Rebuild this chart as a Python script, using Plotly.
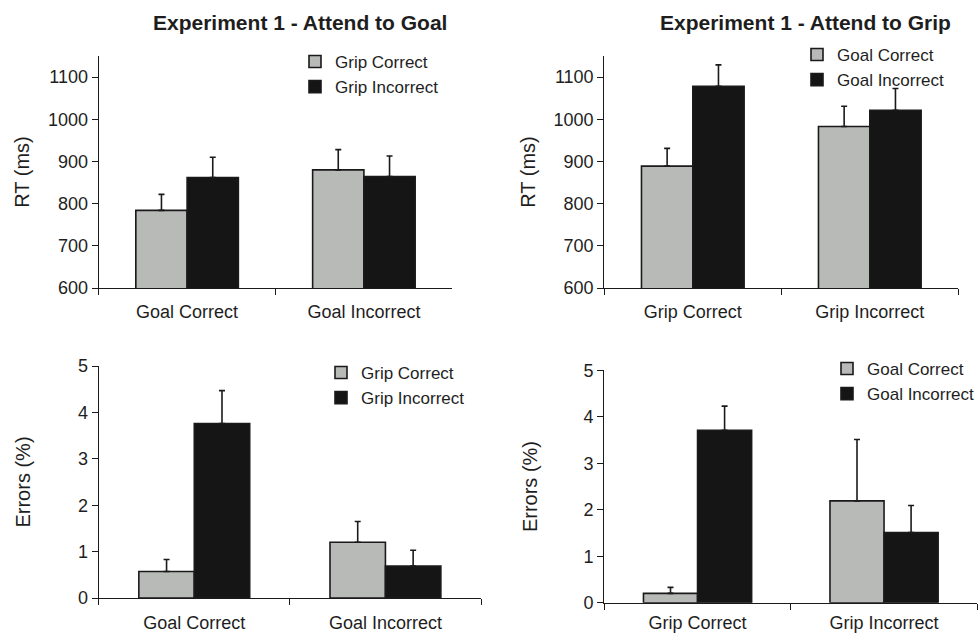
import plotly.graph_objects as go

# ---- data ----
goal_categories = ["Goal Correct", "Goal Incorrect"]
grip_categories = ["Grip Correct", "Grip Incorrect"]

# Attend to Goal (top-left RT, bottom-left errors)
rt_goal_grip_correct = [784, 880]
rt_goal_grip_correct_err = [38, 48]
rt_goal_grip_incorrect = [862, 864]
rt_goal_grip_incorrect_err = [48, 49]

err_goal_grip_correct = [0.57, 1.20]
err_goal_grip_correct_err = [0.26, 0.45]
err_goal_grip_incorrect = [3.76, 0.69]
err_goal_grip_incorrect_err = [0.71, 0.34]

# Attend to Grip (top-right RT, bottom-right errors)
rt_grip_goal_correct = [889, 983]
rt_grip_goal_correct_err = [42, 48]
rt_grip_goal_incorrect = [1078, 1021]
rt_grip_goal_incorrect_err = [51, 52]

err_grip_goal_correct = [0.20, 2.19]
err_grip_goal_correct_err = [0.13, 1.32]
err_grip_goal_incorrect = [3.71, 1.51]
err_grip_goal_incorrect_err = [0.52, 0.58]

titles = ["Experiment 1 - Attend to Goal", "Experiment 1 - Attend to Grip"]

LIGHT = "#b8bab8"
DARK = "#151515"
LINE = "#1a1a1a"
FONT = "Arial, Liberation Sans, sans-serif"
TXT = "#1e1e1e"

W, H = 978, 634

def px_x(a, b):
    return [a / W, b / W]

def px_y(top, bottom):
    return [1 - bottom / H, 1 - top / H]

fig = go.Figure()

panels = [
    (1, goal_categories, [("Grip Correct", rt_goal_grip_correct, rt_goal_grip_correct_err, LIGHT),
                          ("Grip Incorrect", rt_goal_grip_incorrect, rt_goal_grip_incorrect_err, DARK)], "legend"),
    (2, grip_categories, [("Goal Correct", rt_grip_goal_correct, rt_grip_goal_correct_err, LIGHT),
                          ("Goal Incorrect", rt_grip_goal_incorrect, rt_grip_goal_incorrect_err, DARK)], "legend2"),
    (3, goal_categories, [("Grip Correct", err_goal_grip_correct, err_goal_grip_correct_err, LIGHT),
                          ("Grip Incorrect", err_goal_grip_incorrect, err_goal_grip_incorrect_err, DARK)], "legend3"),
    (4, grip_categories, [("Goal Correct", err_grip_goal_correct, err_grip_goal_correct_err, LIGHT),
                          ("Goal Incorrect", err_grip_goal_incorrect, err_grip_goal_incorrect_err, DARK)], "legend4"),
]

for idx, cats, series, leg in panels:
    sfx = "" if idx == 1 else str(idx)
    for i, (name, vals, errs, col) in enumerate(series):
        fig.add_trace(go.Bar(
            x=cats, y=vals, name=name,
            xaxis="x" + sfx, yaxis="y" + sfx,
            offsetgroup=str(i),
            marker=dict(color=col, line=dict(color=LINE, width=1.6)),
            error_y=dict(type="data", array=errs, arrayminus=[0] * len(errs),
                         symmetric=False, color=LINE, thickness=1.6, width=3),
            legend=leg, showlegend=True,
        ))

# domain x, domain y, y range, y ticks, y title, x-label standoff, y-title standoff
domains = {
    1: (px_x(98.7, 452.3), px_y(56, 288), [600, 1150], [600, 700, 800, 900, 1000, 1100], "RT (ms)", 7, 12),
    2: (px_x(604.3, 958.3), px_y(56, 288), [600, 1150], [600, 700, 800, 900, 1000, 1100], "RT (ms)", 7, 12),
    3: (px_x(98.7, 481), px_y(366, 598), [0, 5], [0, 1, 2, 3, 4, 5], "Errors (%)", 8, 41),
    4: (px_x(604.3, 977.3), px_y(370.3, 602.7), [0, 5], [0, 1, 2, 3, 4, 5], "Errors (%)", 4, 40),
}

layout = dict(
    width=W, height=H,
    margin=dict(l=0, r=0, t=0, b=0, autoexpand=False),
    paper_bgcolor="white", plot_bgcolor="white",
    barmode="group", bargap=0.42, bargroupgap=0,
    font=dict(family=FONT, color=TXT, size=17),
    showlegend=True,
)

for idx, (xd, yd, yr, yt, ytitle, stand, tstand) in domains.items():
    sfx = "" if idx == 1 else str(idx)
    layout["xaxis" + sfx] = dict(
        domain=xd, anchor="y" + sfx, type="category", range=[-0.5, 1.5],
        showline=True, linecolor=LINE, linewidth=1.2,
        ticks="outside", tickson="boundaries", ticklen=6, tickcolor=LINE, tickwidth=1.2,
        showgrid=False, zeroline=False, ticklabelstandoff=stand,
        tickfont=dict(size=18, family=FONT, color=TXT),
        automargin=False, fixedrange=True,
    )
    layout["yaxis" + sfx] = dict(
        domain=yd, anchor="x" + sfx, range=yr, tickvals=yt,
        showline=True, linecolor=LINE, linewidth=1.2,
        ticks="outside", ticklen=6, tickcolor=LINE, tickwidth=1.2,
        showgrid=False, zeroline=False,
        tickfont=dict(size=18, family=FONT, color=TXT),
        title=dict(text=ytitle, font=dict(size=20, family=FONT, color=TXT), standoff=tstand),
        automargin=False, fixedrange=True,
    )

legend_pos = {
    "legend": (295, 44),
    "legend2": (797, 37),
    "legend3": (321, 355),
    "legend4": (827, 351),
}
for name, (lx, ly) in legend_pos.items():
    layout[name] = dict(
        x=lx / W, y=1 - ly / H, xanchor="left", yanchor="top",
        bgcolor="rgba(0,0,0,0)", borderwidth=0,
        font=dict(size=17, family=FONT, color=TXT),
        itemclick=False, itemdoubleclick=False,
        traceorder="normal",
    )

fig.update_layout(**layout)

for t, cx in zip(titles, [299.7, 805.7]):
    fig.add_annotation(
        text="<b>" + t + "</b>", x=cx / W, y=1 - 22 / H, xref="paper", yref="paper",
        showarrow=False, xanchor="center", yanchor="middle",
        font=dict(size=21, family=FONT, color=TXT),
    )

fig.write_html("out.html", config={"displayModeBar": False},
               post_script="document.body.style.margin='0';document.body.style.overflow='hidden';")
